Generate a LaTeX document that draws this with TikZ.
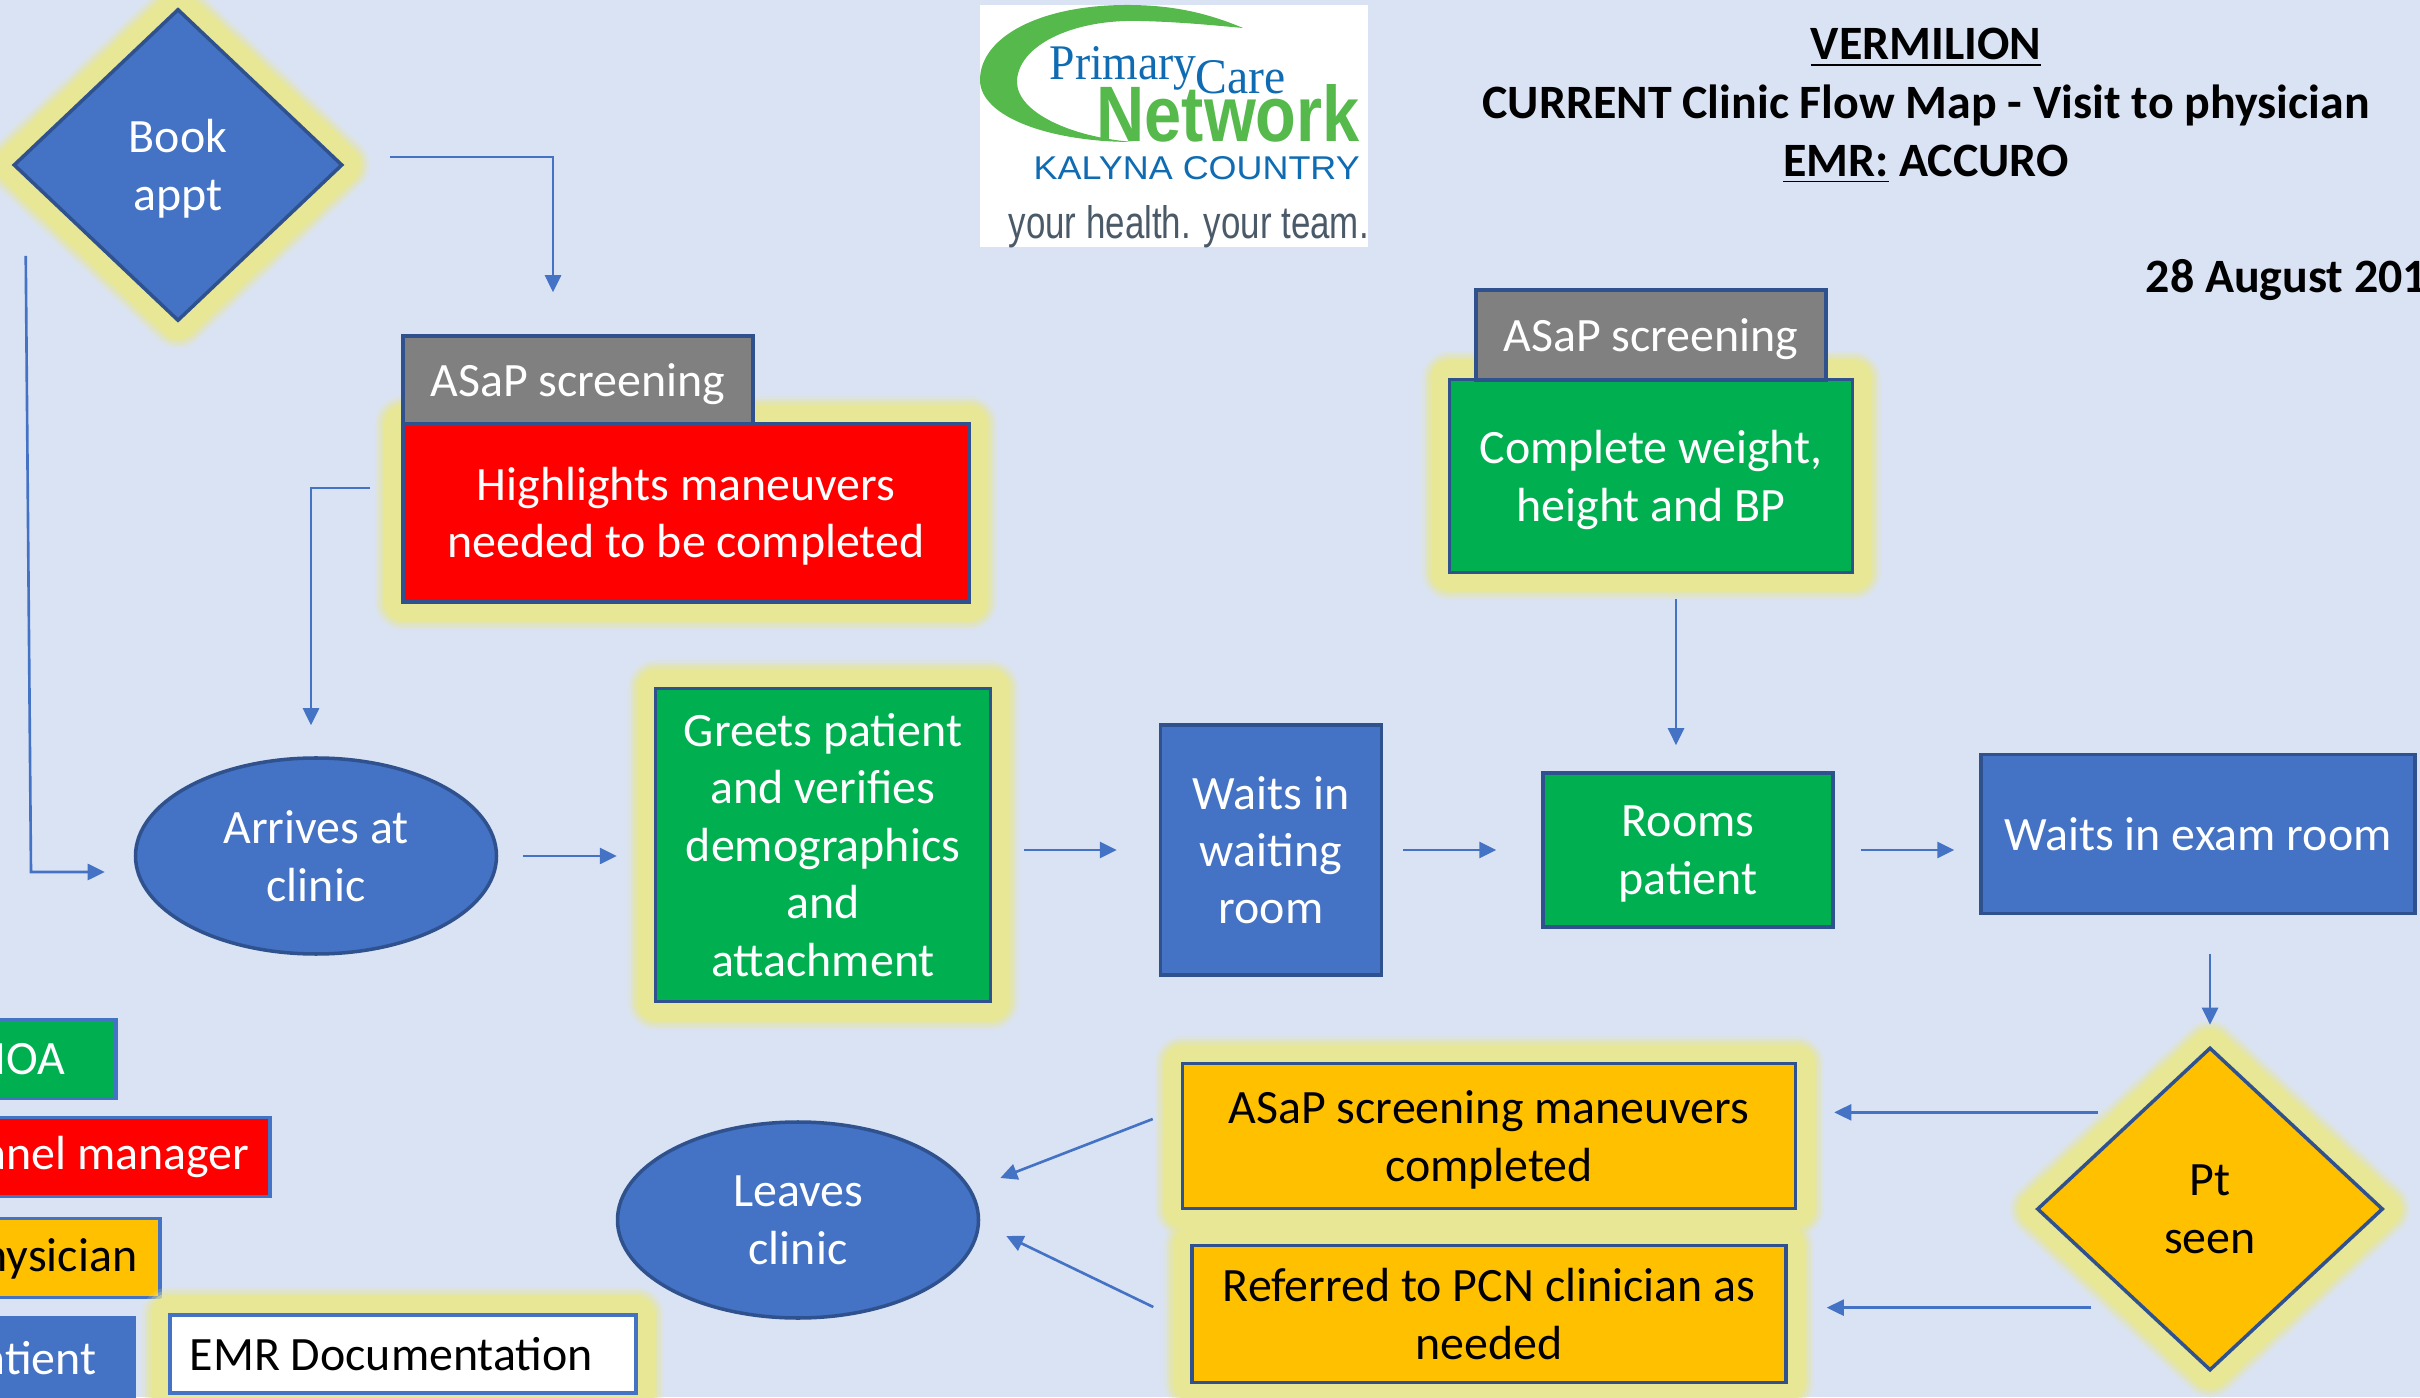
\documentclass[tikz,border=0pt]{standalone}
\usepackage{fontspec}
\setmainfont{Carlito}
\newfontfamily\logosans{Liberation Sans}
\newfontfamily\logoserif{Liberation Serif}
\usetikzlibrary{shapes.geometric,arrows.meta}
\definecolor{pagebg}{HTML}{DAE3F3}
\definecolor{glowc}{HTML}{E8E796}
\definecolor{lineblue}{HTML}{2F528F}
\definecolor{flowblue}{HTML}{4472C4}
\definecolor{fillgreen}{HTML}{00B050}
\definecolor{fillamber}{HTML}{FFC000}
\definecolor{fillgrey}{HTML}{808080}
\definecolor{logogreen}{HTML}{55B94B}
\definecolor{logoblue}{HTML}{0F6CB3}
\definecolor{logogrey}{HTML}{4A5A68}
\tikzset{
    every node/.style={align=center, inner sep=0pt, text=white,
    	font=\fontsize{13.63}{16.35}\selectfont}
}
\tikzset{
    every edge/.append style={draw=flowblue, line width=.75pt,
    	-{Triangle[length=1.7mm,width=1.6mm]}}
}
\tikzset{
    flowbox/.style={rectangle, draw=lineblue, line width=1pt},
    flowoval/.style={ellipse, draw=lineblue, line width=1pt, fill=flowblue,
    	minimum width=3.61cm, minimum height=1.96cm},
    flowdiamond/.style={diamond, draw=lineblue, line width=1pt},
    keybox/.style={rectangle, draw=flowblue, line width=.9pt},
    glowing/.style={
    	preaction={draw=glowc, draw opacity=.2, line width=.56cm, line join=round},
    	preaction={draw=glowc, draw opacity=.3, line width=.5cm, line join=round},
    	preaction={draw=glowc, draw opacity=.5, line width=.44cm, line join=round},
    	preaction={draw=glowc, line width=.38cm, line join=round}},
    flowline/.style={draw=flowblue, line width=.75pt,
    	-{Triangle[length=1.7mm,width=1.6mm]}}
}

\begin{document}
\begin{tikzpicture}
  \useasboundingbox [fill=pagebg] (0cm, 0cm) rectangle (24.2cm, 13.97cm);

  \node (book) [flowdiamond, glowing, text depth=0pt, fill=flowblue, minimum width=3.29cm, minimum height=3.12cm] at (1.78cm, 12.32cm) {Book\\appt};
  \node (highlights) [flowbox, glowing, text depth=.4pt, fill=red, minimum width=5.66cm, minimum height=1.78cm] at (6.86cm, 8.84cm) {Highlights maneuvers\\needed to be completed};
  \node (asap1) [flowbox, text depth=-.9pt, fill=fillgrey, minimum width=3.5cm, minimum height=.88cm] at (5.78cm, 10.17cm) {ASaP screening};
  \node (complete) [flowbox, glowing, text depth=0pt, fill=fillgreen, minimum width=4.03cm, minimum height=1.93cm] at (16.51cm, 9.21cm) {Complete weight,\\height and BP};
  \node (asap2) [flowbox, text depth=0pt, fill=fillgrey, minimum width=3.5cm, minimum height=.9cm] at (16.51cm, 10.62cm) {ASaP screening};

  \node (arrives) [flowoval, text depth=-.4pt] at (3.16cm, 5.41cm) {Arrives at\\clinic};
  \node (greets) [flowbox, glowing, fill=fillgreen, minimum width=3.35cm, minimum height=3.13cm] at (8.23cm, 5.52cm) {Greets patient\\and verifies\\demographics\\and\\attachment};
  \node (waiting) [flowbox, text depth=-.9pt, fill=flowblue, minimum width=2.21cm, minimum height=2.5cm] at (12.71cm, 5.47cm) {Waits in\\waiting\\room};
  \node (rooms) [flowbox, text depth=-.4pt, fill=fillgreen, minimum width=2.9cm, minimum height=1.54cm] at (16.88cm, 5.47cm) {Rooms\\patient};
  \node (exam) [flowbox, text depth=-.9pt, fill=flowblue, minimum width=4.34cm, minimum height=1.59cm] at (21.98cm, 5.63cm) {Waits in exam room};

  \node (seen) [flowdiamond, glowing, text depth=-.9pt, fill=fillamber, text=black, minimum width=3.46cm, minimum height=3.23cm] at (22.1cm, 1.88cm) {Pt\\seen};
  \node (done) [flowbox, glowing, text depth=-.4pt, fill=fillamber, text=black, minimum width=6.13cm, minimum height=1.45cm] at (14.89cm, 2.61cm) {ASaP screening maneuvers\\completed};
  \node (referred) [flowbox, glowing, text depth=-.4pt, fill=fillamber, text=black, minimum width=5.94cm, minimum height=1.37cm] at (14.89cm, .83cm) {Referred to PCN clinician as\\needed};
  \node (leaves) [flowoval, text depth=-.9pt] at (7.98cm, 1.77cm) {Leaves\\clinic};

  \node (moa) [keybox, fill=fillgreen, minimum width=1.56cm, minimum height=.79cm] at (.38cm, 3.38cm) {};
  \node (panel) [keybox, fill=red, minimum width=3.1cm, minimum height=.79cm] at (1.15cm, 2.4cm) {};
  \node (physician) [keybox, fill=fillamber, minimum width=2cm, minimum height=.79cm] at (.6cm, 1.39cm) {};
  \node (emr) [keybox, glowing, fill=white, minimum width=4.66cm, minimum height=.78cm] at (4.03cm, .43cm) {};
  \node (patient) [rectangle, fill=flowblue, minimum width=1.6cm, minimum height=.82cm] at (.56cm, .4cm) {};
  \node (moatext) [anchor=east] at (.66cm, 3.38cm) {MOA};
  \node (paneltext) [anchor=east] at (2.5cm, 2.4cm) {Panel manager};
  \node (physiciantext) [anchor=east, text=black] at (1.38cm, 1.38cm) {Physician};
  \node (patienttext) [anchor=east] at (.97cm, .39cm) {Patient};
  \node (emrtext) [anchor=west, text=black] at (1.89cm, .43cm) {EMR Documentation};

  \node (logo) [rectangle, fill=white, minimum width=3.88cm, minimum height=2.42cm] at (11.74cm, 12.71cm) {};
  \fill [logogreen] (12.43, 13.69) .. controls (12.05, 13.85) and (11.7, 13.92) .. (11.27, 13.92)
    .. controls (10.4, 13.92) and (9.8, 13.6) .. (9.8, 13.17)
    .. controls (9.8, 12.8) and (10.5, 12.55) .. (11.33, 12.55)
    .. controls (10.7, 12.6) and (10.17, 12.85) .. (10.17, 13.15)
    .. controls (10.17, 13.5) and (10.7, 13.78) .. (11.4, 13.76)
    .. controls (11.8, 13.75) and (12.1, 13.72) .. (12.43, 13.69);
  \node (primary) [anchor=base west, text=logoblue] at (10.49cm, 13.17cm) {\resizebox{1.47cm}{.33cm}{\logoserif Primary}};
  \node (care) [anchor=base west, text=logoblue] at (11.95cm, 13.03cm) {\resizebox{.9cm}{.33cm}{\logoserif Care}};
  \node (network) [anchor=base west, text=logogreen] at (10.96cm, 12.55cm) {\resizebox{2.63cm}{.57cm}{\logosans\bfseries Network}};
  \node (kalyna) [anchor=base west, text=logoblue] at (10.33cm, 12.17cm) {\resizebox{3.26cm}{.23cm}{\logosans KALYNA COUNTRY}};
  \node (team) [anchor=base west, text=logogrey] at (10.08cm, 11.58cm) {\resizebox{3.6cm}{.33cm}{\logosans your health. your team.}};

  \node (title) [text=black, font=\fontsize{13.63}{16.6}\selectfont\bfseries] at (19.26cm, 12.91cm) {\underline{VERMILION}\\CURRENT Clinic Flow Map - Visit to physician\\\underline{EMR:} ACCURO};
  \node (date) [anchor=west, text=black, font=\fontsize{13.63}{16.35}\selectfont\bfseries] at (21.45cm, 11.17cm) {28 August 201};

  \draw [flowline] ([shift={(.46,.08)}]book.east) -| ([shift={(-.25,.42)}]asap1.north);
  \draw [flowline] ([shift={(-.31,.25)}]highlights.west) -| ([shift={(-.05,.31)}]arrives.north);
  \coordinate (bend) at (.31cm, 5.25cm);
  \draw [flowline] ([shift={(.14,-.91)}]book.west) -- (bend) -- ([shift={(-.29,-.16)}]arrives.west);

  \draw (arrives.east) edge [shorten <=.25cm, shorten >=.37cm] (arrives.east -| greets.west);
  \draw (waiting.west -| greets.east) edge [shorten <=.32cm, shorten >=.42cm] (waiting.west);
  \draw (waiting.east) edge [shorten <=.2cm, shorten >=.45cm] (rooms.west);
  \draw (rooms.east) edge [shorten <=.26cm, shorten >=.25cm] (rooms.east -| exam.west);
  \draw ([xshift=.25cm]complete.south) edge [shorten <=.25cm, shorten >=.26cm] ([xshift=.25cm]complete.south |- rooms.north);
  \draw (seen.north |- exam.south) edge [shorten <=.39cm, shorten >=.21cm] (seen.north);

  \coordinate (seenup) at ([yshift=.15cm]seen.north west);
  \coordinate (seendown) at ([yshift=-.17cm]seen.south west);
  \draw (seenup) edge [shorten <=.25cm, shorten >=.37cm] (seenup -| done.east);
  \draw (seendown) edge [shorten <=.32cm, shorten >=.39cm] (seendown -| referred.east);
  \draw ([shift={(-.28,.17)}]done.west) edge ([shift={(.2,.42)}]leaves.east);
  \draw ([shift={(-.37,.07)}]referred.west) edge ([shift={(.26,-.16)}]leaves.east);
\end{tikzpicture}
\end{document}
